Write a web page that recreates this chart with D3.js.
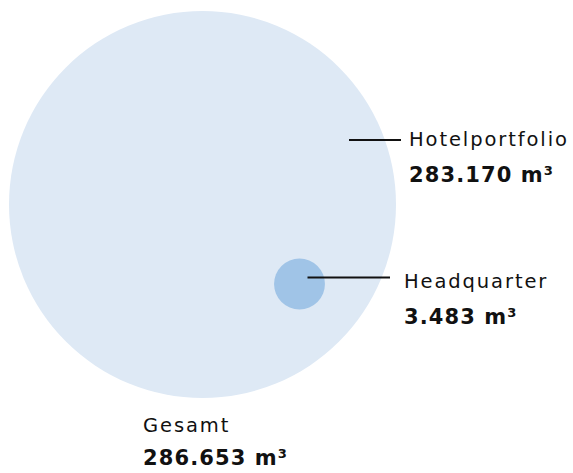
<!DOCTYPE html>
<html>
<head>
<meta charset="utf-8">
<script src="https://cdn.jsdelivr.net/npm/d3@7"></script>
<style>
  body { margin: 0; background: #fff; }
  text { font-family: "DejaVu Sans", sans-serif; fill: #111; }
  .name { font-size: 19.5px; font-weight: 400; letter-spacing: 1.9px; }
  .value { font-size: 21px; font-weight: 700; letter-spacing: 1.1px; }
</style>
</head>
<body>
<div id="chart"></div>
<script>
// Data
const names = ["Hotelportfolio", "Headquarter"];
const values = [283170, 3483];
const totalName = "Gesamt";
const totalValue = 286653;
const valueLabels = ["283.170 m³", "3.483 m³"];
const totalLabel = "286.653 m³";

// Chart dimensions
const width = 573, height = 473;

const svg = d3.select("#chart").append("svg")
    .attr("width", width)
    .attr("height", height);

// radius scale (big circle = total)
const rScale = d3.scalePow().exponent(0.46).domain([0, totalValue]).range([0, 193.5]);

// big circle holds the total, small one sits inside it at the lower right
const cx = 202.5, cy = 204.5;
const bigR = rScale(totalValue);
const smallR = rScale(values[1]);
const smallX = 299.5, smallY = 284;

svg.append("circle")
    .attr("cx", cx).attr("cy", cy).attr("r", bigR)
    .attr("fill", "#dee9f5");

svg.append("circle")
    .attr("cx", smallX).attr("cy", smallY).attr("r", smallR)
    .attr("fill", "#a0c4e7");

// leader lines + labels
const labels = [
  {x1: 349, x2: 401, y: 140, tx: 409, ty: 146, i: 0},
  {x1: smallX + 8, x2: 390, y: 277.5, tx: 404, ty: 288, i: 1}
];

labels.forEach(l => {
  svg.append("line")
      .attr("x1", l.x1).attr("x2", l.x2)
      .attr("y1", l.y).attr("y2", l.y)
      .attr("stroke", "#111").attr("stroke-width", 2);
  svg.append("text").attr("class", "name")
      .attr("x", l.tx).attr("y", l.ty).text(names[l.i]);
  svg.append("text").attr("class", "value")
      .attr("x", l.tx).attr("y", l.ty + 36).text(valueLabels[l.i]);
});

svg.append("text").attr("class", "name")
    .attr("x", 143).attr("y", 431.5).text(totalName);
svg.append("text").attr("class", "value")
    .attr("x", 143).attr("y", 465).text(totalLabel);
</script>
</body>
</html>
